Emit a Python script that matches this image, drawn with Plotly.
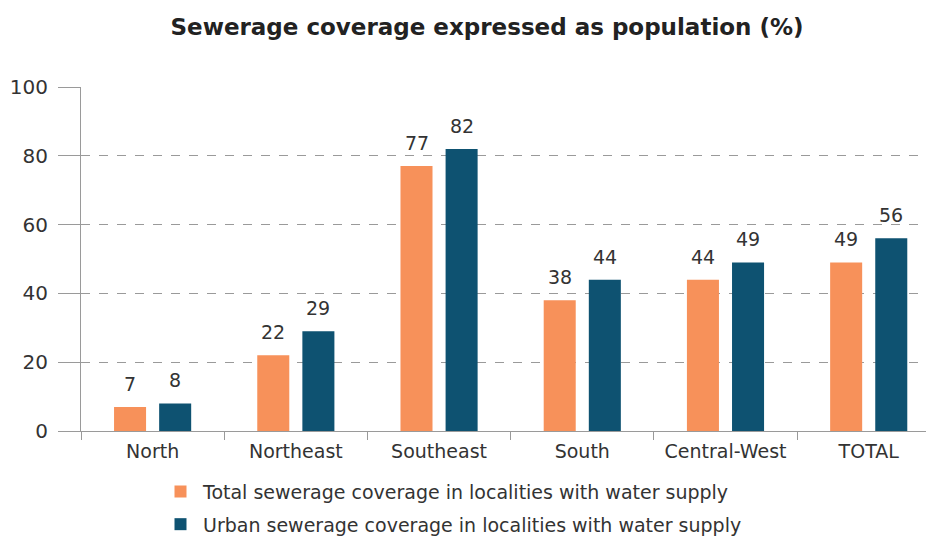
import plotly.graph_objects as go

regions = ["North", "Northeast", "Southeast", "South", "Central-West", "TOTAL"]
total_cov = [7, 22, 77, 38, 44, 49]
urban_cov = [8, 29, 82, 44, 49, 56]
series_names = [
    "Total sewerage coverage in localities with water supply",
    "Urban sewerage coverage in localities with water supply",
]
y_ticks = [0, 20, 40, 60, 80, 100]

ORANGE = "#F7915A"
BLUE = "#0E5271"
TEXT = "#333333"
GRID = "#9a9a9a"
FONT = "DejaVu Sans"

fig = go.Figure()
fig.add_trace(go.Bar(x=regions, y=total_cov, name=series_names[0], legendgroup="total",
                     marker=dict(color=ORANGE, line=dict(width=0))))
fig.add_trace(go.Bar(x=regions, y=urban_cov, name=series_names[1], legendgroup="urban",
                     marker=dict(color=BLUE, line=dict(width=0))))

# value labels above each bar
annotations = []
for vals, shift in ((total_cov, -22.5), (urban_cov, 22.5)):
    for r, v in zip(regions, vals):
        annotations.append(dict(x=r, y=v, xref="x", yref="y", text=str(v),
                                showarrow=False, xshift=shift, yshift=10,
                                yanchor="bottom",
                                font=dict(family=FONT, size=19, color=TEXT)))

fig.update_layout(
    width=926, height=536,
    margin=dict(l=81, r=0, t=87, b=105, autoexpand=False),
    paper_bgcolor="white", plot_bgcolor="white",
    barmode="group", bargap=0.37, bargroupgap=0.29,
    font=dict(family=FONT, size=19, color=TEXT),
    title=dict(text="<b>Sewerage coverage expressed as population (%)</b>",
               x=(487 - 81) / 845, xanchor="center", xref="paper",
               y=1 - 27 / 536, yanchor="middle", yref="container",
               font=dict(family=FONT, size=23, color="#222222")),
    annotations=annotations,
    showlegend=True,
    legend=dict(orientation="v", x=(158 - 81) / 845, xanchor="left",
                y=-0.121, yanchor="top", font=dict(family=FONT, size=19, color=TEXT),
                bgcolor="rgba(0,0,0,0)", itemwidth=35,
                traceorder="grouped", tracegroupgap=5),
)
fig.update_xaxes(range=[-0.5, 5.4], tickson="boundaries", ticks="outside",
                 ticklen=8, tickcolor=GRID, showline=True, linecolor=GRID,
                 linewidth=1, showgrid=False, ticklabelstandoff=3,
                 tickfont=dict(size=19, color=TEXT))
fig.update_yaxes(range=[0, 100], tickvals=y_ticks, ticks="outside", ticklen=22,
                 tickcolor=GRID, showline=True, linecolor=GRID, linewidth=1,
                 showgrid=True, gridcolor=GRID, griddash="dash", gridwidth=1,
                 zeroline=False, ticklabelstandoff=6,
                 tickfont=dict(size=20, color=TEXT))

fig.write_html("out.html")
